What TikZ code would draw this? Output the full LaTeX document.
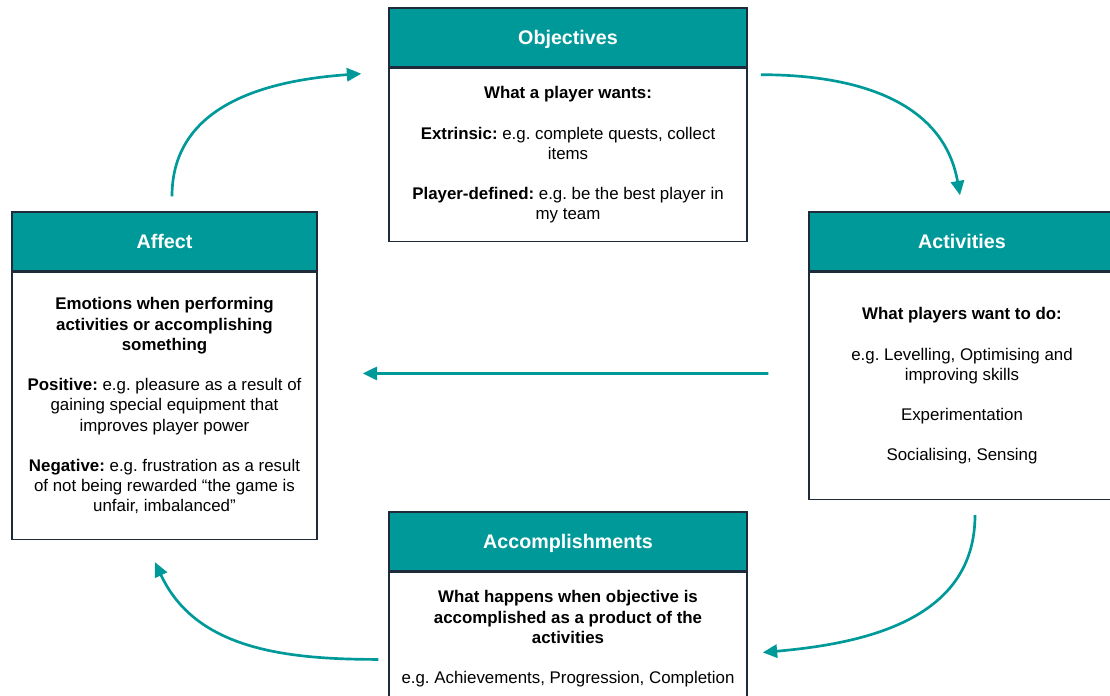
\documentclass[tikz,border=0pt]{standalone}
\usepackage{fontspec}
\setmainfont{Liberation Sans}
\usetikzlibrary{positioning}
\usetikzlibrary{calc}
\usetikzlibrary{arrows.meta}
\definecolor{gameteal}{HTML}{009999}
\definecolor{boxline}{HTML}{1E2B3A}
\frenchspacing

\begin{document}
\begin{tikzpicture}[x=0.025cm,y=0.025cm,>={Triangle[length=0.36cm,width=0.33cm]},
					node distance=0pt]
					\tikzstyle{head}=[draw=boxline,line width=1pt,fill=gameteal,text=white,
						font=\fontsize{14}{16}\selectfont\bfseries,minimum height=1.475cm,inner sep=0pt,
						text height=10pt,text depth=0pt]
					\tikzstyle{body}=[draw=boxline,line width=1pt,fill=white,
						font=\fontsize{12}{14.4}\selectfont,align=center,inner sep=0pt]
					\tikzstyle{flow}=[->,draw=gameteal,line width=1.9pt]

					\useasboundingbox (0,0) rectangle (1110,696);
					\clip (0,0) rectangle (1110,696);

					\node[head,minimum width=8.95cm] (obj_head) at (568,658.5) {Objectives};
					\node[body,minimum width=8.95cm,minimum height=4.325cm,below=of obj_head] (obj_body)
						{\textbf{What a player wants:}\\[0.5cm]
						 \textbf{Extrinsic:} e.g. complete quests, collect\\items\\[0.5cm]
						 \textbf{Player-defined:} e.g. be the best player in\\my team};

					\node[head,minimum width=7.65cm] (act_head) at (962,454.5) {Activities};
					\node[body,minimum width=7.65cm,minimum height=5.675cm,below=of act_head] (act_body)
						{\textbf{What players want to do:}\\[0.5cm]
						 e.g. Levelling, Optimising and\\improving skills\\[0.5cm]
						 Experimentation\\[0.5cm]
						 Socialising, Sensing};

					\node[head,minimum width=7.625cm] (aff_head) at (164.5,454.5) {Affect};
					\node[body,minimum width=7.625cm,minimum height=6.675cm,below=of aff_head] (aff_body)
						{\textbf{Emotions when performing}\\\textbf{activities or accomplishing}\\\textbf{something}\\[0.5cm]
						 \textbf{Positive:} e.g. pleasure as a result of\\gaining special equipment that\\improves player power\\[0.5cm]
						 \textbf{Negative:} e.g. frustration as a result\\of not being rewarded “the game is\\unfair, imbalanced”};

					\node[head,minimum width=8.95cm] (acc_head) at (568,154.5) {Accomplishments};
					\node[body,minimum width=8.95cm,minimum height=3.325cm,below=of acc_head] (acc_body)
						{\textbf{What happens when objective is}\\\textbf{accomplished as a product of the}\\\textbf{activities}\\[0.5cm]
						 e.g. Achievements, Progression, Completion};

					\draw[flow] ($(aff_head.north)+(7.5,15)$) to[out=90,in=184,looseness=1.05] ($(obj_body.north west)+(-27,-6)$);
					\draw[flow] ($(obj_body.north east)+(13,-7)$) to[out=0,in=100,looseness=1.05] ($(act_head.north)+(-2,16)$);
					\draw[flow] ($(act_body.west)+(-40,12.5)$) -- ($(aff_body.east)+(45,32.5)$);
					\draw[flow] ($(act_body.south)+(13,-15)$) to[out=-90,in=5,looseness=1.05] ($(acc_body.east)+(15,-13.5)$);
					\draw[flow] ($(acc_body.west)+(-10,-20.5)$) to[out=180,in=-65] ($(aff_body.south)+(-9.5,-22)$);
\end{tikzpicture}
\end{document}
